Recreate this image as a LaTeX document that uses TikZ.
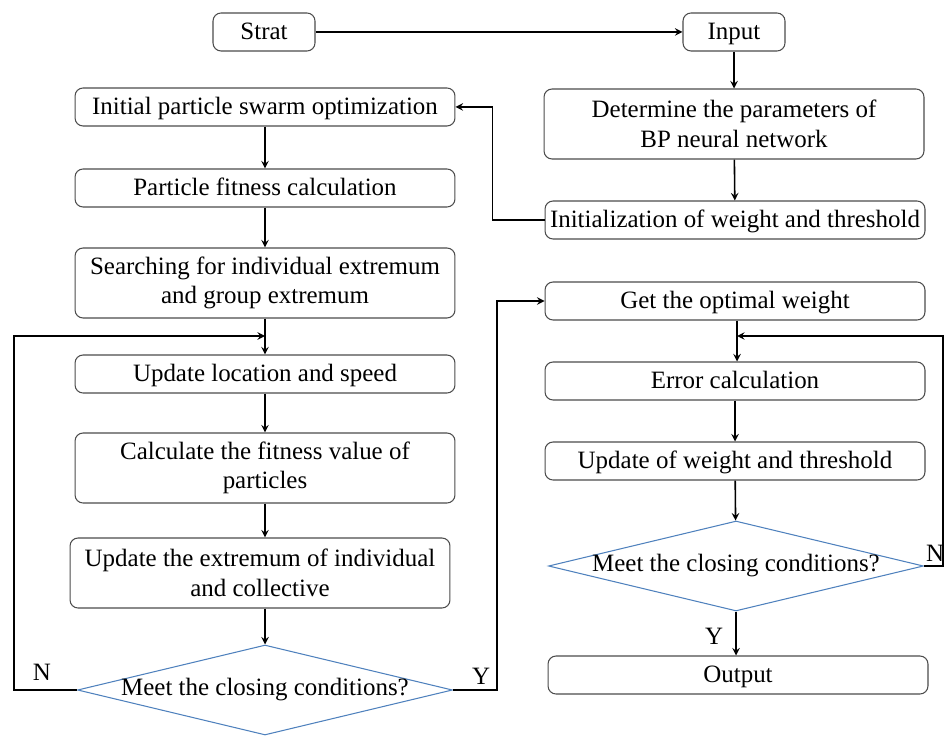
\documentclass[tikz,border=0pt]{standalone}
\usepackage{fontspec}
\setmainfont{Liberation Serif}
\usetikzlibrary{shapes.geometric}
\definecolor{condblue}{RGB}{79,129,189}

\begin{document}
\begin{tikzpicture}[x=0.02cm, y=-0.02cm, >=stealth,
	font=\fontsize{14.2}{16.8}\selectfont,
	boxbase/.style={draw=black!70, line width=0.6pt, rounded corners=0.16cm, align=center,
		minimum width=7.6cm, inner xsep=1pt},
	box/.style={boxbase, minimum height=0.76cm, text height=9.6pt, text depth=0.6pt},
	tallbox/.style={boxbase, minimum height=1.4cm},
	smallbox/.style={box, minimum width=2.04cm},
	cond/.style={diamond, draw=condblue, line width=0.6pt, inner sep=0pt, aspect=4.2,
		minimum width=7.5cm, minimum height=1.8cm},
	link/.style={->, line width=0.9pt}]
	
	\useasboundingbox (0,0) rectangle (945,736);
	
	% Hàng trên cùng
	\node[smallbox] (strat) at (264,32) {Strat};
	\node[smallbox] (input) at (734,32) {Input};
	
	% Cột trái: tối ưu bầy đàn
	\node[box] (init) at (265,107) {Initial particle swarm optimization};
	\node[box] (fit) at (265,188) {Particle fitness calculation};
	\node[tallbox] (search) at (265,283) {Searching for individual extremum\\and group extremum};
	\node[box] (updloc) at (265,374) {Update location and speed};
	\node[tallbox] (calc) at (265,468) {Calculate the fitness value of\\particles};
	\node[tallbox] (updext) at (260,573) {Update the extremum of individual\\and collective};
	\node[cond] (meetl) at (265,690) {\makebox[4.5cm]{Meet the closing conditions?}};
	
	% Cột phải: mạng BP
	\node[tallbox] (param) at (734,124) {Determine the parameters of\\BP neural network};
	\node[box] (initw) at (735,220) {Initialization of weight and threshold};
	\node[box] (optw) at (735,301) {Get the optimal weight};
	\node[box] (err) at (735,381) {Error calculation};
	\node[box] (updw) at (735,461) {Update of weight and threshold};
	\node[cond] (meetr) at (736,566) {\makebox[4.5cm]{Meet the closing conditions?}};
	\node[box] (out) at (738,675) {Output};
	
	% Điểm nối của các vòng lặp
	\coordinate (jl) at (265,336);
	\coordinate (jr) at (737,336);
	
	% Mũi tên
	\draw[link] (strat) -- (input);
	\draw[link] (input) -- (param);
	\draw[link] (param) -- (initw);
	\draw[link] (initw.west) -- ++(-52,0) |- (init.east);
	\draw[link] (init) -- (fit);
	\draw[link] (fit) -- (search);
	\draw[link] (search) -- (updloc);
	\draw[link] (updloc) -- (calc);
	\draw[link] (calc.south) -- (calc.south |- updext.north);
	\draw[link] (updext.south -| meetl.north) -- (meetl.north);
	\draw[link] (meetl.west) -- ++(-63,0) |- (jl);
	\draw[link] (meetl.east) -- ++(44,0) |- (optw.west);
	\draw[link] (optw.south -| jr) -- (err.north -| jr);
	\draw[link] (err) -- (updw);
	\draw[link] (updw) -- (meetr);
	\draw[link] (meetr.east) -- (943,566) |- (jr);
	\draw[link] (meetr.south) -- (meetr.south |- out.north);
	
	% Nhãn Y / N
	\node (nl) at (42,672) {N};
	\node (yl) at (481,676) {Y};
	\node (nr) at (935,553) {N};
	\node (yr) at (714,636) {Y};
	
\end{tikzpicture}
\end{document}
